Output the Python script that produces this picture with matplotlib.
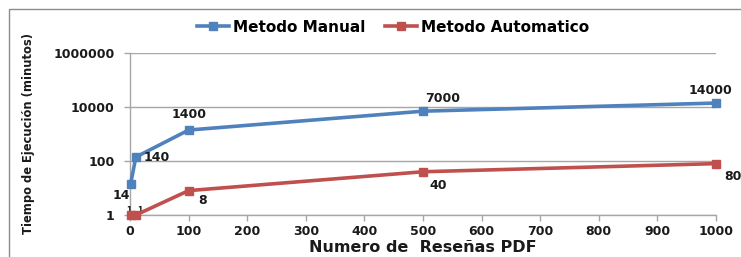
import matplotlib
matplotlib.use("Agg")
import matplotlib.pyplot as plt
from matplotlib.patches import Rectangle

# data
reviews = [1, 10, 100, 500, 1000]
manual = [14, 140, 1400, 7000, 14000]
automatico = [1, 1, 8, 40, 80]
y_ticks = [1, 100, 10000, 1000000]
x_ticks = [0, 100, 200, 300, 400, 500, 600, 700, 800, 900, 1000]

blue = "#4F81BD"
red = "#C0504D"
grid_c = "#A6A6A6"
txt = "#1A1A1A"

W, H, dpi = 741, 257, 100
fig = plt.figure(figsize=(W / dpi, H / dpi), dpi=dpi)
fig.set_facecolor("white")
ax = fig.add_axes([130 / W, 1 - 215 / H, (716 - 130) / W, (215 - 53) / H])

# outer chart border (runs off right/bottom edge)
fig.add_artist(Rectangle((9 / W, -0.05), 1.0, 1 - 9 / H + 0.05, transform=fig.transFigure,
                         fill=False, edgecolor="#8C8C8C", linewidth=1.0))

ax.set_yscale("log")
ax.set_ylim(1, 1000000)
ax.set_xlim(0, 1000)
ax.set_yticks(y_ticks)
ax.set_yticklabels([str(v) for v in y_ticks])
ax.yaxis.set_minor_locator(matplotlib.ticker.NullLocator())
ax.set_xticks(x_ticks)
ax.grid(axis="y", color=grid_c, linewidth=1.0)
ax.set_axisbelow(True)
for s in ["top", "right"]:
    ax.spines[s].set_visible(False)
for s in ["left", "bottom"]:
    ax.spines[s].set_color(grid_c)
    ax.spines[s].set_linewidth(1.0)
ax.tick_params(axis="both", colors=grid_c, length=4, width=1, direction="out")
ax.tick_params(axis="both", labelcolor=txt, labelsize=9)
ax.tick_params(axis="y", pad=7)
for lab in ax.get_xticklabels() + ax.get_yticklabels():
    lab.set_fontweight("bold")

ax.plot(reviews, manual, color=blue, lw=2.6, marker="s", ms=6, label="Metodo Manual",
        clip_on=False, zorder=4)
ax.plot(reviews, automatico, color=red, lw=2.6, marker="s", ms=6, label="Metodo Automatico",
        clip_on=False, zorder=4)

# manual labels
offs_m = [(-7, -8), (15, 0), (0, 11), (14, 9), (-4, 9)]
for x, v, o in zip(reviews, manual, offs_m):
    ax.annotate(str(v), (x, v), xytext=o, ha="center", va="center", fontsize=9,
                fontweight="bold", color=txt, textcoords="offset points", zorder=5)
# automatic labels
offs_a = [(-1, 3), (3, 3), (10, -7), (11, -10), (12, -9)]
for i, (x, v, o) in enumerate(zip(reviews, automatico, offs_a)):
    fs = 5.5 if i < 2 else 9
    ax.annotate(str(v), (x, v), xytext=o, ha="center", va="center",
                fontsize=fs, fontweight="bold", color=txt, textcoords="offset points",
                zorder=3 if i < 2 else 5, annotation_clip=False)

ax.set_ylabel("Tiempo de Ejecución (minutos)", fontsize=8.3, fontweight="bold", color=txt)
ax.yaxis.set_label_coords(-0.162, 0.5)
ax.set_xlabel("Numero de  Reseñas PDF", fontsize=11.5, fontweight="bold", color=txt, labelpad=1)

fig.legend(loc="center", bbox_to_anchor=(393 / W, 1 - 27 / H), ncol=2, frameon=False,
           prop={"size": 11, "weight": "bold"}, handlelength=2.1, columnspacing=1.25,
           handletextpad=0.3)

fig.savefig("out.png", dpi=dpi)
plt.close(fig)
